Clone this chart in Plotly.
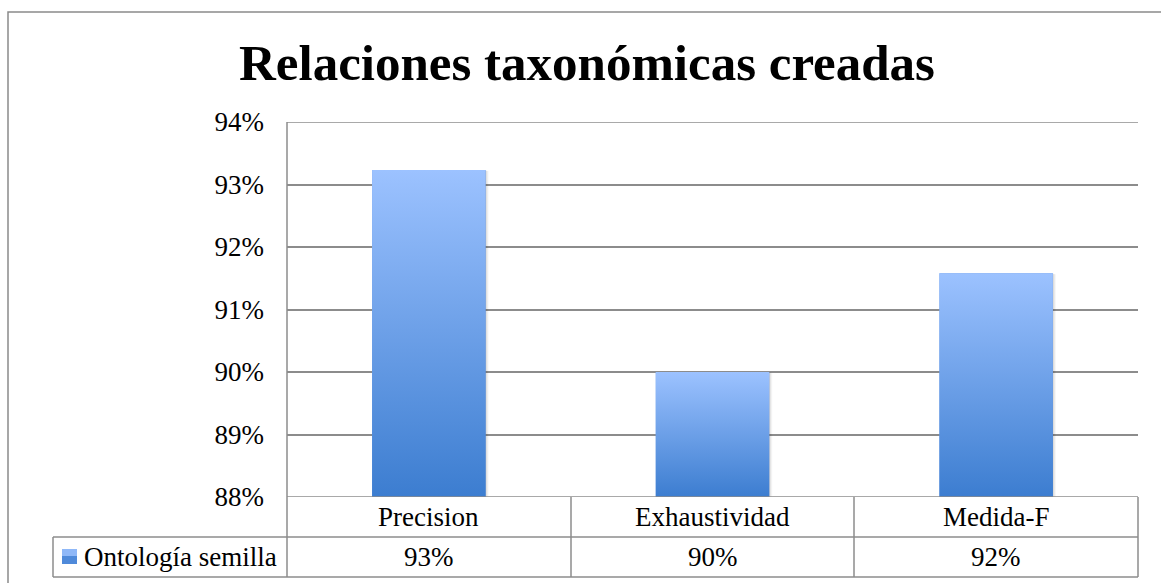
import plotly.graph_objects as go

# Chart data
categories = ["Precision", "Exhaustividad", "Medida-F"]
series_name = "Ontología semilla"
values = [0.9323, 0.9000, 0.9158]
y_ticks = [0.88, 0.89, 0.90, 0.91, 0.92, 0.93, 0.94]

W, H = 1161, 583
L, R, T, B = 287, 23, 122, 86          # plot-area margins in px
PW, PH = W - L - R, H - T - B
FONT = "Liberation Serif"
GRID = "#8c8c8c"
BAR_W = 0.40
BASE = y_ticks[0]
TOP_C, BOT_C = "#9CC2FF", "#3C7DD0"


def px(x):
    """pixel x -> paper x"""
    return (x - L) / PW


def py(y):
    """pixel y -> paper y"""
    return (H - B - y) / PH


fig = go.Figure()

xs = list(range(len(categories)))

# base bars
fig.add_trace(go.Bar(
    x=xs, y=[v - BASE for v in values], base=BASE, width=BAR_W,
    marker=dict(color="#6A9CE8", line=dict(width=0)),
    name=series_name, showlegend=False, hoverinfo="skip",
))

# soft drop shadow + vertical gradient overlay for each bar
for i, v in enumerate(values):
    x0, x1 = i - BAR_W / 2, i + BAR_W / 2
    for k, a in ((3, 0.04), (2, 0.05), (1, 0.06)):
        dx, dy = 0.0035 * k, 0.00005 * k
        fig.add_trace(go.Scatter(
            x=[x0 + dx, x1 + dx, x1 + dx, x0 + dx, x0 + dx],
            y=[BASE, BASE, v - dy, v - dy, BASE],
            fill="toself", fillcolor=f"rgba(0,0,0,{a})",
            line=dict(width=0), mode="lines", showlegend=False, hoverinfo="skip",
        ))
    fig.add_trace(go.Scatter(
        x=[x0, x1, x1, x0, x0],
        y=[BASE, BASE, v, v, BASE],
        fill="toself",
        fillgradient=dict(type="vertical", colorscale=[[0, BOT_C], [1, TOP_C]]),
        line=dict(width=0), mode="lines", showlegend=False,
        name=categories[i], hovertemplate=f"{categories[i]}: %{{y:.1%}}<extra></extra>",
    ))

shapes = []
line = dict(color=GRID, width=1.5)

# outer chart frame (runs past the right and bottom edges)
shapes.append(dict(type="rect", xref="paper", yref="paper",
                   x0=px(8), x1=px(W + 20), y0=py(H + 20), y1=py(12),
                   line=dict(color="#8a8a8a", width=1.5), layer="below"))

# gridlines at both ends of the value range
for yv in (y_ticks[0], y_ticks[-1]):
    shapes.append(dict(type="line", xref="paper", yref="y",
                       x0=0, x1=1, y0=yv, y1=yv, line=line))

# data table grid
tbl_y = [py(497), py(537), py(577)]
col_x = [px(287), px(571), px(854), px(1138)]
leg_x = px(53)
shapes.append(dict(type="line", xref="paper", yref="paper",
                   x0=leg_x, x1=col_x[-1], y0=tbl_y[1], y1=tbl_y[1], line=line))
shapes.append(dict(type="line", xref="paper", yref="paper",
                   x0=leg_x, x1=col_x[-1], y0=tbl_y[2], y1=tbl_y[2], line=line))
shapes.append(dict(type="line", xref="paper", yref="paper",
                   x0=leg_x, x1=leg_x, y0=tbl_y[2], y1=tbl_y[1], line=line))
shapes.append(dict(type="line", xref="paper", yref="paper",
                   x0=col_x[0], x1=col_x[0], y0=tbl_y[2], y1=1, line=line))
for cx in col_x[1:]:
    shapes.append(dict(type="line", xref="paper", yref="paper",
                       x0=cx, x1=cx, y0=tbl_y[2], y1=tbl_y[0], line=line))

# legend key swatch (two-tone to suggest the gradient)
shapes.append(dict(type="rect", xref="paper", yref="paper",
                   x0=px(62), x1=px(77), y0=py(556), y1=py(549),
                   fillcolor="#8FB8F8", line=dict(width=0)))
shapes.append(dict(type="rect", xref="paper", yref="paper",
                   x0=px(62), x1=px(77), y0=py(564), y1=py(556),
                   fillcolor="#4F8ADA", line=dict(width=0)))

annotations = [
    dict(text="<b>Relaciones taxonómicas creadas</b>", xref="paper", yref="paper",
         x=px(587), y=py(63), xanchor="center", yanchor="middle", showarrow=False,
         font=dict(family=FONT, size=51, color="#000")),
    dict(text=series_name, xref="paper", yref="paper", x=px(82), y=py(557),
         xanchor="left", yanchor="middle", showarrow=False,
         font=dict(family=FONT, size=27, color="#000")),
]
for i, (c, v) in enumerate(zip(categories, values)):
    annotations.append(dict(text=c, xref="x", yref="paper", x=i, y=py(517),
                            xanchor="center", yanchor="middle", showarrow=False,
                            font=dict(family=FONT, size=27, color="#000")))
    annotations.append(dict(text=f"{v:.0%}", xref="x", yref="paper", x=i, y=py(557),
                            xanchor="center", yanchor="middle", showarrow=False,
                            font=dict(family=FONT, size=27, color="#000")))

fig.update_layout(
    width=W, height=H,
    margin=dict(l=L, r=R, t=T, b=B, autoexpand=False),
    paper_bgcolor="white", plot_bgcolor="white",
    showlegend=False,
    xaxis=dict(range=[-0.5, 2.5], showgrid=False, zeroline=False,
               showticklabels=False, showline=False, fixedrange=True),
    yaxis=dict(range=[0.88, 0.94], tickvals=y_ticks, tickformat=".0%",
               showgrid=True, gridcolor=GRID, gridwidth=1.5, zeroline=False,
               showline=False, ticks="", ticklabelstandoff=22,
               tickfont=dict(family=FONT, size=27, color="#000"), fixedrange=True),
    shapes=shapes,
    annotations=annotations,
    font=dict(family=FONT),
)

fig.write_html("out.html")
